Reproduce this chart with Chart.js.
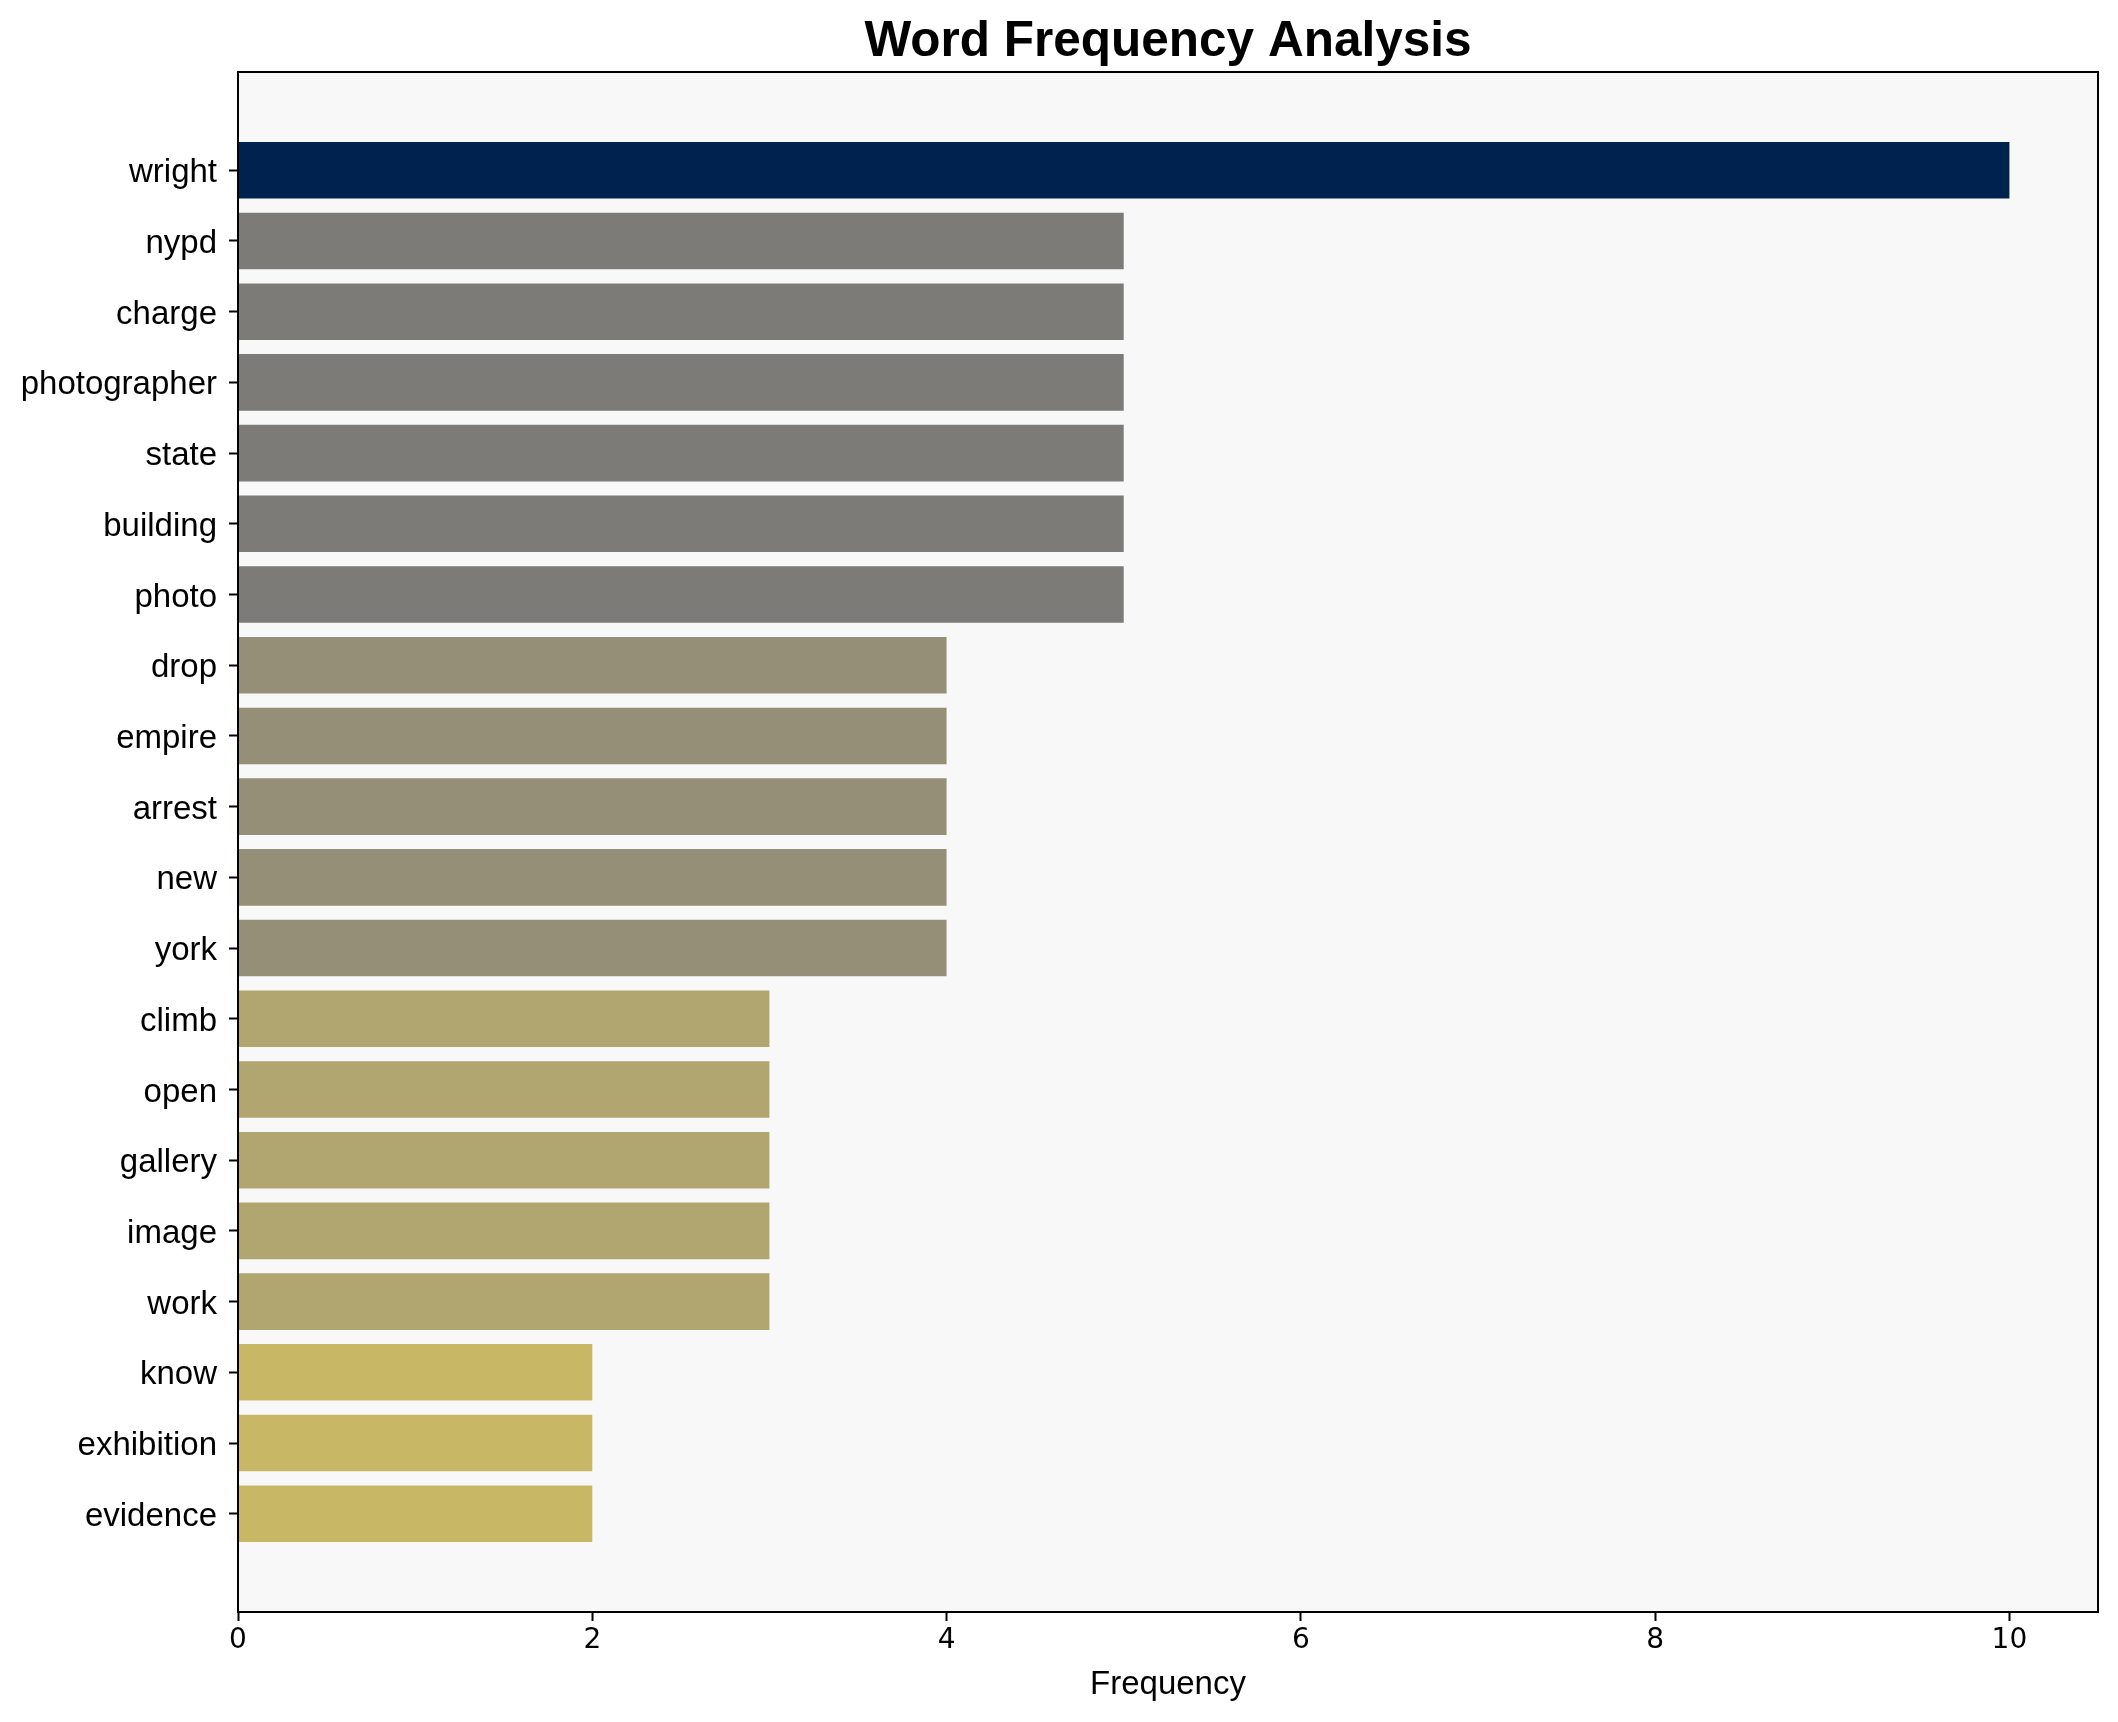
<!DOCTYPE html>
<html>
<head>
<meta charset="utf-8">
<script src="https://cdn.jsdelivr.net/npm/chart.js@4.4.1/dist/chart.umd.min.js"></script>
<style>
    html, body { margin: 0; padding: 0; background: #ffffff; }
    #wordChart { display: block; }
</style>
</head>
<body>
<canvas id="wordChart" width="2118" height="1722"></canvas>
<script>
var words = ['wright', 'nypd', 'charge', 'photographer', 'state', 'building', 'photo',
    'drop', 'empire', 'arrest', 'new', 'york', 'climb', 'open', 'gallery', 'image', 'work',
    'know', 'exhibition', 'evidence'];
var counts = [10, 5, 5, 5, 5, 5, 5, 4, 4, 4, 4, 4, 3, 3, 3, 3, 3, 2, 2, 2];
var xTicks = [0, 2, 4, 6, 8, 10];

// colour per frequency (cividis-like)
var palette = {
    10: '#00224e',
    5: '#7c7b78',
    4: '#968f77',
    3: '#b1a570',
    2: '#c8b866'
};

var fontName = "'Liberation Sans', Arial, sans-serif";
var tickFont = "'DejaVu Sans', sans-serif";

// plot background + black frame round the axes
var frameBox = {
    id: 'frameBox',
    beforeDraw: function (chart) {
        var a = chart.chartArea;
        var c = chart.ctx;
        c.save();
        c.fillStyle = '#f8f8f8';
        c.fillRect(a.left, a.top, a.right - a.left, a.bottom - a.top);
        c.restore();
    },
    afterDraw: function (chart) {
        var a = chart.chartArea;
        var c = chart.ctx;
        c.save();
        c.strokeStyle = '#000000';
        c.lineWidth = 2;
        c.strokeRect(a.left, a.top, a.right - a.left, a.bottom - a.top);
        c.restore();
    }
};

var points = words.map(function (w, i) { return { x: counts[i], y: i }; });

var ctx = document.getElementById('wordChart').getContext('2d');

var myChart = new Chart(ctx, {
    type: 'bar',
    data: {
        datasets: [{
            label: 'Frequency',
            data: points,
            backgroundColor: counts.map(function (v) { return palette[v]; }),
            borderWidth: 0,
            barPercentage: 0.8,
            categoryPercentage: 1.0
        }]
    },
    plugins: [frameBox],
    options: {
        indexAxis: 'y',
        responsive: false,
        animation: false,
        devicePixelRatio: 1,
        layout: {
            padding: { left: 0, right: 20, top: 0, bottom: 0 }
        },
        plugins: {
            legend: { display: false },
            tooltip: { enabled: false },
            title: {
                display: true,
                fullSize: false,   // centre over the plot, not the whole canvas
                text: 'Word Frequency Analysis',
                color: '#000000',
                font: { family: fontName, size: 49.5, weight: 'bold' },
                padding: { top: 12.5, bottom: 0.1 }
            }
        },
        scales: {
            x: {
                type: 'linear',
                position: 'bottom',
                bounds: 'data',
                offset: false,
                min: 0,
                max: 10.5,
                afterBuildTicks: function (scale) {
                    scale.ticks = xTicks.map(function (v) { return { value: v }; });
                    scale.min = 0;
                    scale.max = 10.5;
                },
                afterFit: function (scale) { scale.height = 110; },
                border: { display: false },
                grid: {
                    offset: false,
                    drawOnChartArea: false,
                    color: 'rgba(0,0,0,0)',
                    tickColor: '#000000',
                    tickLength: 9,
                    tickWidth: 2
                },
                ticks: {
                    color: '#000000',
                    padding: 3,
                    maxRotation: 0,
                    font: { family: tickFont, size: 28 }
                },
                title: {
                    display: true,
                    text: 'Frequency',
                    color: '#000000',
                    font: { family: fontName, size: 33 },
                    padding: { top: 4, bottom: 17 }
                }
            },
            y: {
                type: 'linear',
                reverse: true,
                bounds: 'data',
                offset: false,
                min: -1.39,
                max: 20.39,
                afterBuildTicks: function (scale) {
                    scale.ticks = words.map(function (w, i) { return { value: i }; });
                    scale.min = -1.39;
                    scale.max = 20.39;
                },
                afterFit: function (scale) { scale.width = 238; },
                border: { display: false },
                grid: {
                    offset: false,
                    drawOnChartArea: false,
                    color: 'rgba(0,0,0,0)',
                    tickColor: '#000000',
                    tickLength: 9,
                    tickWidth: 2
                },
                ticks: {
                    color: '#000000',
                    padding: 12,
                    labelOffset: 3,
                    autoSkip: false,
                    font: { family: fontName, size: 33 },
                    callback: function (value) { return words[value]; }
                }
            }
        }
    }
});
</script>
</body>
</html>
